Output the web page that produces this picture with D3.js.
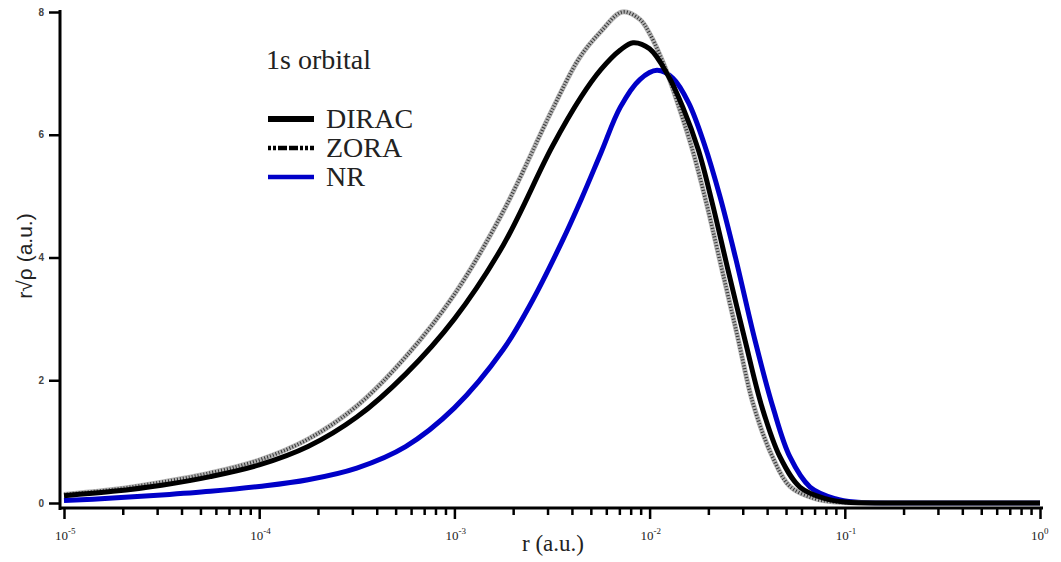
<!DOCTYPE html>
<html>
<head>
<meta charset="utf-8">
<script src="https://cdn.jsdelivr.net/npm/d3@7"></script>
<style>
	body { margin: 0; background: #fff; }
	#chart { width: 1061px; height: 562px; }
</style>
</head>
<body>
<div id="chart"></div>
<script>
// values, x as log10(r)
const diracLogR = [-5, -4.75, -4.5, -4.25, -4.0, -3.75, -3.5, -3.25, -3.0, -2.75, -2.5, -2.35, -2.25, -2.15, -2.085, -2.0, -1.906, -1.83, -1.75, -1.68, -1.6, -1.511, -1.424, -1.332, -1.23, -1.1, -1.0, -0.7, -0.3, 0]
const diracVal = [0.12, 0.19, 0.29, 0.43, 0.62, 0.92, 1.4, 2.1, 3.0, 4.2, 5.8, 6.62, 7.06, 7.38, 7.5, 7.4, 6.97, 6.45, 5.75, 4.9, 3.82, 2.65, 1.56, 0.75, 0.26, 0.07, 0.015, 0, 0, 0]

const zoraLogR = [-5, -4.75, -4.5, -4.25, -4.0, -3.75, -3.5, -3.25, -3.0, -2.75, -2.5, -2.36, -2.25, -2.14, -2.05, -2.0, -1.921, -1.86, -1.78, -1.71, -1.64, -1.552, -1.47, -1.373, -1.281, -1.153, -1.05, -0.7, -0.3, 0]
const zoraVal = [0.14, 0.22, 0.34, 0.49, 0.7, 1.04, 1.58, 2.38, 3.4, 4.75, 6.4, 7.25, 7.68, 8.0, 7.88, 7.65, 7.1, 6.55, 5.75, 4.9, 3.95, 2.75, 1.62, 0.77, 0.27, 0.07, 0.015, 0, 0, 0]

const nrLogR = [-5, -4.75, -4.5, -4.25, -4.0, -3.75, -3.5, -3.25, -3.0, -2.75, -2.6, -2.45, -2.35, -2.25, -2.15, -2.05, -1.962, -1.88, -1.8, -1.72, -1.64, -1.56, -1.46, -1.368, -1.281, -1.178, -1.05, -0.948, -0.6, -0.3, 0]
const nrVal = [0.04, 0.08, 0.13, 0.19, 0.27, 0.38, 0.57, 0.92, 1.55, 2.5, 3.3, 4.25, 4.95, 5.7, 6.45, 6.9, 7.05, 6.92, 6.52, 5.85, 5.0, 4.0, 2.65, 1.56, 0.75, 0.26, 0.07, 0.015, 0, 0, 0]

const xDecades = [-5, -4, -3, -2, -1, 0]
const yTicks = [0, 2, 4, 6, 8]
const legendItems = ["DIRAC", "ZORA", "NR"]
const titleText = "1s orbital"
const xLabel = "r (a.u.)"
const yLabel = "r\u221A\u03C1 (a.u.)"

const svg = d3
	.select("#chart")
	.append("svg")
	.attr("width", 1061)
	.attr("height", 562)

const x = d3.scaleLog().domain([1e-5, 1]).range([64, 1040])
const y = d3.scaleLinear().domain([0, 8]).range([503, 12])

const toPoints = (logR, vals) => logR.map((l, i) => ({ r: Math.pow(10, l), v: vals[i] }))

const line = d3
	.line()
	.x((d) => x(d.r))
	.y((d) => Math.min(y(d.v), y(0)))
	.curve(d3.curveCatmullRom.alpha(0.5))

// curves: NR under, then ZORA, then DIRAC on top
svg.append("path")
	.datum(toPoints(nrLogR, nrVal))
	.attr("fill", "none")
	.attr("stroke", "#0000c8")
	.attr("stroke-width", 5)
	.attr("d", line)

const zora = toPoints(zoraLogR, zoraVal)
svg.append("path")
	.datum(zora)
	.attr("fill", "none")
	.attr("stroke", "#b4b4b4")
	.attr("stroke-width", 5)
	.attr("d", line)
svg.append("path")
	.datum(zora)
	.attr("fill", "none")
	.attr("stroke", "#333")
	.attr("stroke-width", 3.5)
	.attr("stroke-dasharray", "1,2")
	.attr("d", line)

svg.append("path")
	.datum(toPoints(diracLogR, diracVal))
	.attr("fill", "none")
	.attr("stroke", "#000")
	.attr("stroke-width", 5)
	.attr("d", line)

// x axis: minor ticks, then major ticks with 10^n labels
const minorVals = []
xDecades.slice(0, -1).forEach((d) => {
	for (let k = 2; k <= 9; k++) minorVals.push(k * Math.pow(10, d))
})
const majorVals = xDecades.map((d) => Math.pow(10, d))

svg.append("g")
	.attr("transform", "translate(0,508)")
	.call(d3.axisBottom(x).tickValues(minorVals).tickSize(7).tickFormat(""))
svg.append("g")
	.attr("transform", "translate(0,508)")
	.call(d3.axisBottom(x).tickValues(majorVals).tickSize(11).tickFormat(""))
svg.selectAll(".domain").remove()
svg.selectAll(".tick line").attr("stroke", "#000").attr("stroke-width", 2.5)

svg.append("line")
	.attr("x1", 60).attr("x2", 1043)
	.attr("y1", 508).attr("y2", 508)
	.attr("stroke", "#000").attr("stroke-width", 3)

xDecades.forEach((d) => {
	const t = svg.append("text")
		.attr("x", x(Math.pow(10, d)) - 9)
		.attr("y", 540)
		.style("font-family", "'Liberation Serif', serif")
		.style("font-size", "13px")
		.attr("fill", "#222")
	t.append("tspan").text("10")
	t.append("tspan").attr("dy", -6).style("font-size", "9px").text(d === 0 ? "0" : String(d))
})

// y axis
const yAxis = svg.append("g")
	.attr("transform", "translate(60,0)")
	.call(d3.axisLeft(y).tickValues(yTicks).tickSize(11).tickPadding(5))
yAxis.select(".domain").remove()
yAxis.selectAll(".tick line").attr("stroke", "#000").attr("stroke-width", 2.5)
yAxis.selectAll(".tick text")
	.style("font-family", "Arial, sans-serif")
	.style("font-size", "10px")
	.style("font-weight", "bold")
	.attr("fill", "#444")

svg.append("line")
	.attr("x1", 60).attr("x2", 60)
	.attr("y1", 10).attr("y2", 510)
	.attr("stroke", "#000").attr("stroke-width", 3)

// axis titles
svg.append("text")
	.attr("x", 553)
	.attr("y", 551)
	.attr("text-anchor", "middle")
	.style("font-family", "'Liberation Serif', serif")
	.style("font-size", "23px")
	.attr("fill", "#222")
	.text(xLabel)

svg.append("text")
	.attr("transform", "translate(32,256) rotate(-90)")
	.attr("text-anchor", "middle")
	.style("font-family", "'Liberation Sans', Arial, sans-serif")
	.style("font-size", "21px")
	.attr("fill", "#222")
	.text(yLabel)

// title and legend
svg.append("text")
	.attr("x", 266)
	.attr("y", 69)
	.style("font-family", "'Liberation Serif', serif")
	.style("font-size", "28px")
	.attr("fill", "#222")
	.text(titleText)

const legendStyle = [
	{ color: "#000", width: 6, dash: null },
	{ color: "#000", width: 4.5, dash: "3,2,3,2,9,2,9,2" },
	{ color: "#0000c8", width: 4.5, dash: null },
]
legendItems.forEach((name, i) => {
	const yy = 119 + i * 29
	const s = legendStyle[i]
	svg.append("line")
		.attr("x1", 268).attr("x2", 314)
		.attr("y1", yy).attr("y2", yy)
		.attr("stroke", s.color)
		.attr("stroke-width", s.width)
		.attr("stroke-dasharray", s.dash)
	svg.append("text")
		.attr("x", 326)
		.attr("y", yy + 9)
		.style("font-family", "'Liberation Serif', serif")
		.style("font-size", "28px")
		.attr("fill", "#222")
		.text(name)
})
</script>
</body>
</html>
